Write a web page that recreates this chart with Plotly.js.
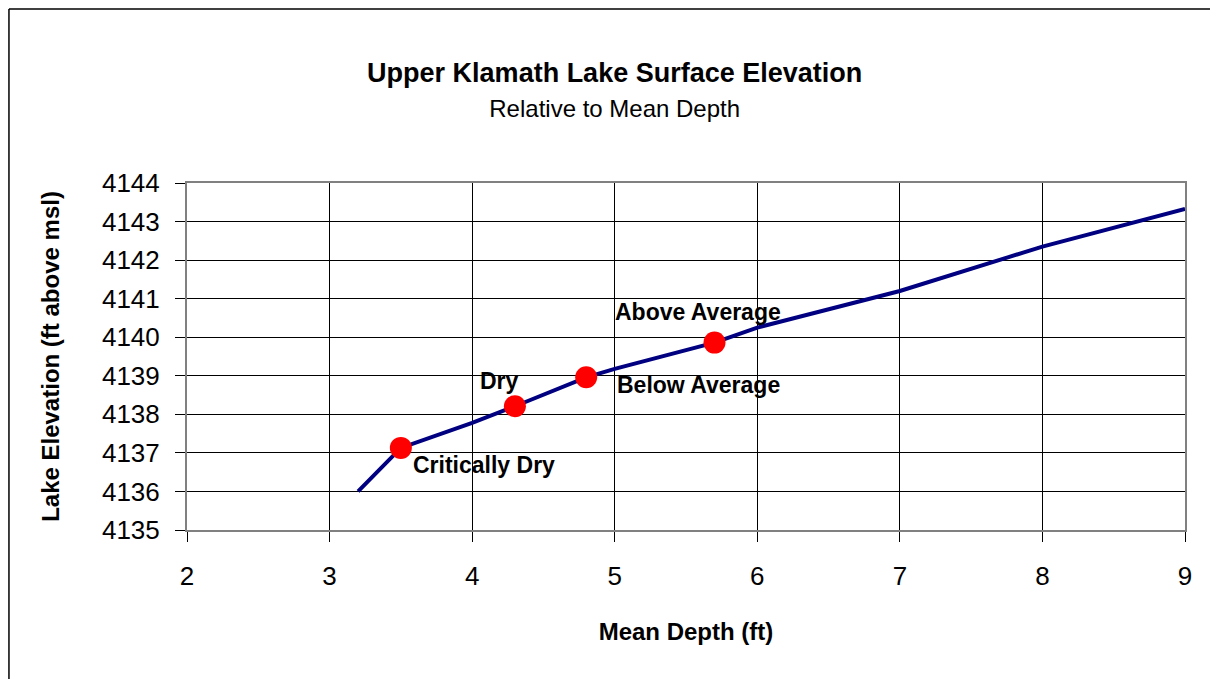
<!DOCTYPE html>
<html>
<head>
<meta charset="utf-8">
<script src="https://cdn.plot.ly/plotly-3.0.1.min.js"></script>
<style>
html,body{margin:0;padding:0;background:#fff;}
#chart{width:1210px;height:679px;}
</style>
</head>
<body>
<div id="chart"></div>
<script>
// Curve: mean depth (ft) vs lake elevation (ft above msl)
const depth     = [3.2, 3.5, 4.0, 4.3, 4.8, 5.0, 5.7, 6.0, 7.0, 8.0, 9.0];
const elevation = [4136.0, 4137.13, 4137.78, 4138.21, 4138.96, 4139.18, 4139.86, 4140.25, 4141.2, 4142.35, 4143.33];

// Water-year type markers
const yearTypes     = ["Critically Dry", "Dry", "Below Average", "Above Average"];
const yearDepth     = [3.5, 4.3, 4.8, 5.7];
const yearElevation = [4137.13, 4138.21, 4138.96, 4139.86];

const xTicks = [2, 3, 4, 5, 6, 7, 8, 9];
const yTicks = [4135, 4136, 4137, 4138, 4139, 4140, 4141, 4142, 4143, 4144];

// label placement relative to each marker (pixels)
const labelStyle = [
  {xanchor: "left",   xshift: 10,  yshift: -17},
  {xanchor: "center", xshift: -15, yshift: 25},
  {xanchor: "left",   xshift: 29,  yshift: -8},
  {xanchor: "center", xshift: -17, yshift: 31}
];

const FONT = "Arial, 'Liberation Sans', sans-serif";

const traces = [
  {
    x: depth, y: elevation, type: "scatter", mode: "lines",
    line: {color: "#000080", width: 4},
    hoverinfo: "x+y", showlegend: false
  },
  {
    x: yearDepth, y: yearElevation, type: "scatter", mode: "markers",
    marker: {color: "#ff0000", size: 22},
    text: yearTypes, hoverinfo: "text+x+y", showlegend: false
  }
];

const annotations = yearTypes.map((t, i) => ({
  x: yearDepth[i], y: yearElevation[i], xref: "x", yref: "y",
  text: "<b>" + t + "</b>", showarrow: false,
  xanchor: labelStyle[i].xanchor, yanchor: "middle",
  xshift: labelStyle[i].xshift, yshift: labelStyle[i].yshift,
  font: {family: FONT, size: 23, color: "#000"}
}));

const layout = {
  width: 1210, height: 679,
  paper_bgcolor: "#fff", plot_bgcolor: "#fff",
  margin: {l: 187, r: 25, t: 183, b: 149, autoexpand: false},
  font: {family: FONT, color: "#000"},
  title: {
    text: "<b>Upper Klamath Lake Surface Elevation</b><br><span style='font-size:24px'>Relative to Mean Depth</span>",
    font: {family: FONT, size: 27, color: "#000"},
    x: 0.508, xref: "container", xanchor: "center",
    y: 0.879, yref: "container", yanchor: "middle"
  },
  xaxis: {
    range: [2, 9], tickvals: xTicks, ticktext: xTicks.map(String),
    showgrid: true, gridcolor: "#000", gridwidth: 1,
    showline: true, linecolor: "#808080", linewidth: 2, mirror: true,
    ticks: "outside", ticklen: 10, tickcolor: "#000", tickwidth: 1,
    ticklabelstandoff: 12,
    tickfont: {family: FONT, size: 26, color: "#000"},
    zeroline: false, fixedrange: true,
    title: {text: "<b>Mean Depth (ft)</b>", font: {family: FONT, size: 24, color: "#000"}, standoff: 33}
  },
  yaxis: {
    range: [4135, 4144], tickvals: yTicks, ticktext: yTicks.map(String),
    showgrid: true, gridcolor: "#000", gridwidth: 1,
    showline: true, linecolor: "#808080", linewidth: 2, mirror: true,
    ticks: "outside", ticklen: 10, tickcolor: "#000", tickwidth: 1,
    ticklabelstandoff: 10,
    tickfont: {family: FONT, size: 26, color: "#000"},
    zeroline: false, fixedrange: true,
    title: {text: "<b>Lake Elevation (ft above msl)</b>", font: {family: FONT, size: 24, color: "#000"}, standoff: 36}
  },
  annotations: annotations,
  shapes: [
    {type: "line", xref: "paper", yref: "paper", x0: -0.1784, x1: -0.1784, y0: -0.5, y1: 1.5014,
     line: {color: "#000", width: 1.5}},
    {type: "line", xref: "paper", yref: "paper", x0: -0.1784, x1: 1.1, y0: 1.5014, y1: 1.5014,
     line: {color: "#000", width: 1.5}}
  ],
  showlegend: false
};

Plotly.newPlot("chart", traces, layout, {displayModeBar: false});
</script>
</body>
</html>
